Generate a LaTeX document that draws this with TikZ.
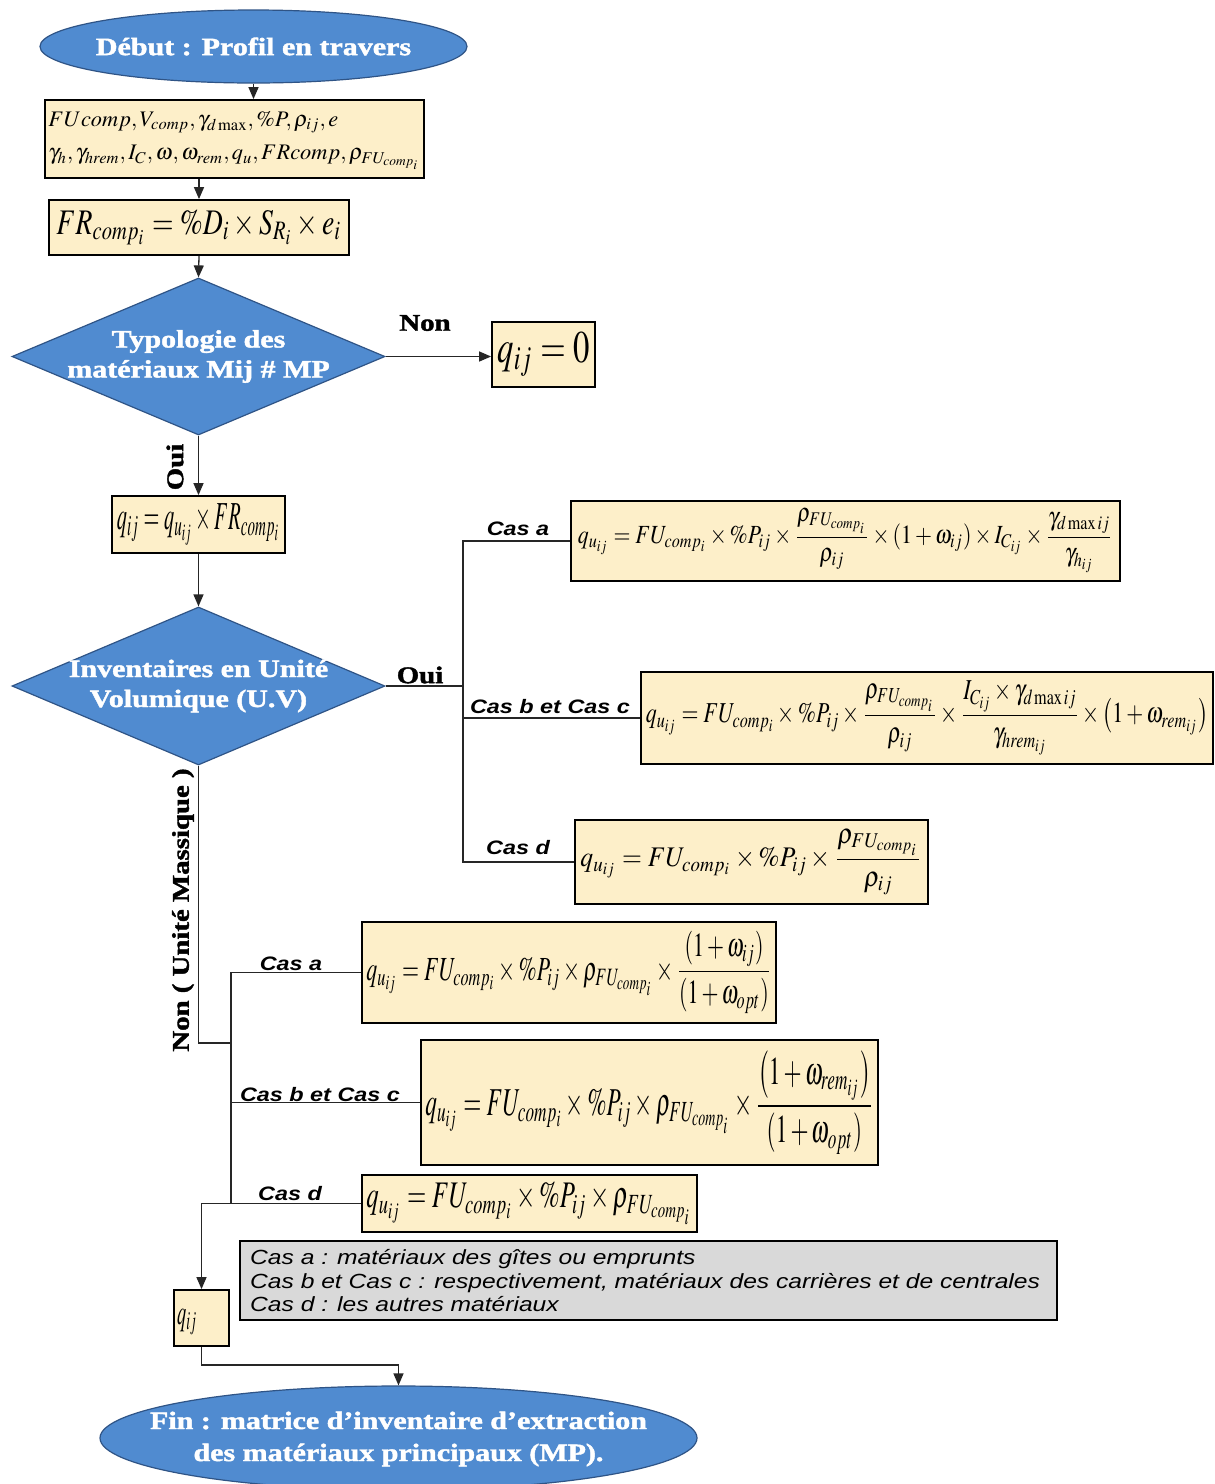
\documentclass[tikz,border=0pt]{standalone}
\usepackage{amsmath}
\usepackage{mathptmx}
\usepackage[no-math]{fontspec}
\setmainfont{Liberation Serif}
\setsansfont{Liberation Sans}
\newfontfamily\blfont[FakeBold=1.5]{Liberation Serif}
\usetikzlibrary{shapes.geometric,arrows.meta}
\definecolor{fblue}{HTML}{508BD0}
\definecolor{fbluedk}{HTML}{2F5486}
\definecolor{fyel}{HTML}{FDEFC9}
\definecolor{fgray}{HTML}{D9D9D9}
\newcommand{\fz}[3]{\resizebox*{#1}{#2}{#3}}
\newcommand{\st}[1]{\scalebox{1.2}[1]{#1}}
\begin{document}
\begin{tikzpicture}[x=1pt,y=-1pt,
 fbox/.style={draw=black,line width=1.8pt,fill=fyel,inner sep=0pt,rectangle},
 term/.style={ellipse,draw=fbluedk,line width=1.2pt,fill=fblue,inner sep=0pt},
 decide/.style={diamond,draw=fbluedk,line width=1.2pt,fill=fblue,inner sep=0pt},
 bltext/.style={text=white,align=center,inner sep=0pt,font=\blfont\bfseries\fontsize{25}{30}\selectfont},
 conn/.style={line width=1.3pt,draw=black!85},
 arr/.style={conn,-{Triangle[length=12pt,width=10pt]}},
 lbl/.style={inner sep=0pt,font=\blfont\bfseries\fontsize{24}{28}\selectfont},
 cas/.style={inner sep=0pt,font=\sffamily\bfseries\itshape\fontsize{19.5}{22}\selectfont},
 legtext/.style={inner sep=0pt,align=left,font=\sffamily\itshape\fontsize{20.5}{23.5}\selectfont}]
\useasboundingbox (0,0) rectangle (1215,1484);
\fill[white] (0,0) rectangle (1215,1484);

% start
\node[term,minimum width=427pt,minimum height=73pt] (start) at (253.5,46.5) {};
\node[bltext] (startt) at (start) {\st{Début : Profil en travers}};

% input box
\node[fbox,minimum width=379pt,minimum height=78pt] (b1) at (234.5,139)
 {\fz{372pt}{62pt}{\begin{tabular}{@{}l@{}}$FUcomp, V_{comp}, \gamma_{d\max}, \%P, \rho_{ij}, e$\\[3pt]
 $\gamma_h, \gamma_{hrem}, I_C, \omega, \omega_{rem}, q_u, FRcomp, \rho_{FU_{comp_i}}$\end{tabular}}};

\node[fbox,minimum width=300pt,minimum height=55pt] (b2) at (199,227.5)
 {\fz{285pt}{35pt}{$FR_{comp_i} = \%D_i \times S_{R_i} \times e_i$}};

% decision 1
\node[decide,minimum width=373pt,minimum height=157pt] (d1) at (198.5,356.5) {};
\node[bltext] (d1t) at (d1) {\st{Typologie des}\\\st{matériaux Mij \# MP}};

\node[fbox,minimum width=103pt,minimum height=65pt] (q0) at (543.5,354.5)
 {\fz{92pt}{44pt}{$q_{ij} = 0$}};

\node[fbox,minimum width=173pt,minimum height=57pt] (b3) at (198.5,524.5)
 {\fz{163pt}{42pt}{$q_{ij} = q_{u_{ij}} \times FR_{comp_i}$}};

% decision 2
\node[decide,minimum width=373pt,minimum height=158pt] (d2) at (198.5,686) {};
\node[bltext] (d2t) at (d2) {\st{Inventaires en Unité}\\\st{Volumique (U.V)}};

% volumique boxes
\node[fbox,minimum width=549pt,minimum height=80pt] (va) at (845.5,541)
 {\fz{535pt}{64pt}{$q_{u_{ij}} = FU_{comp_i} \times \%P_{ij} \times \dfrac{\rho_{FU_{comp_i}}}{\rho_{ij}} \times \left(1+\omega_{ij}\right) \times I_{C_{ij}} \times \dfrac{\gamma_{d\max ij}}{\gamma_{h_{ij}}}$}};

\node[fbox,minimum width=572pt,minimum height=92pt] (vbc) at (927,718)
 {\fz{562pt}{74pt}{$q_{u_{ij}} = FU_{comp_i} \times \%P_{ij} \times \dfrac{\rho_{FU_{comp_i}}}{\rho_{ij}} \times \dfrac{I_{C_{ij}} \times \gamma_{d\max ij}}{\gamma_{hrem_{ij}}} \times \left(1+\omega_{rem_{ij}}\right)$}};

\node[fbox,minimum width=353pt,minimum height=84pt] (vd) at (751.5,862)
 {\fz{342pt}{66pt}{$q_{u_{ij}} = FU_{comp_i} \times \%P_{ij} \times \dfrac{\rho_{FU_{comp_i}}}{\rho_{ij}}$}};

% massique boxes
\node[fbox,minimum width=414pt,minimum height=101pt] (ma) at (569,972.5)
 {\fz{405pt}{82pt}{$q_{u_{ij}} = FU_{comp_i} \times \%P_{ij} \times \rho_{FU_{comp_i}} \times \dfrac{\left(1+\omega_{ij}\right)}{\left(1+\omega_{opt}\right)}$}};

\node[fbox,minimum width=457pt,minimum height=125pt] (mbc) at (649.5,1102.5)
 {\fz{448pt}{104pt}{$q_{u_{ij}} = FU_{comp_i} \times \%P_{ij} \times \rho_{FU_{comp_i}} \times \dfrac{\left(1+\omega_{rem_{ij}}\right)}{\left(1+\omega_{opt}\right)}$}};

\node[fbox,minimum width=335pt,minimum height=57pt] (md) at (529.5,1203.5)
 {\fz{326pt}{42pt}{$q_{u_{ij}} = FU_{comp_i} \times \%P_{ij} \times \rho_{FU_{comp_i}}$}};

% legend
\node[draw=black,line width=1.8pt,fill=fgray,minimum width=817pt,minimum height=79pt,inner sep=0pt] (leg) at (648.5,1280.5) {};
\node[legtext,anchor=west] (legt) at (250,1281)
 {\st{Cas a : matériaux des gîtes ou emprunts}\\
  \st{Cas b et Cas c : respectivement, matériaux des carrières et de centrales}\\
  \st{Cas d : les autres matériaux}};

% result box
\node[fbox,minimum width=55pt,minimum height=56pt] (qf) at (201.5,1318) {};
\node[inner sep=0pt,anchor=west] (qft) at (177,1322) {\fz{20pt}{26pt}{$q_{ij}$}};

% end
\node[term,minimum width=597pt,minimum height=104pt] (fin) at (398.5,1438) {};
\node[bltext,font=\blfont\bfseries\fontsize{25}{32}\selectfont] (fint) at (398.5,1439)
 {\st{Fin : matrice d’inventaire d’extraction}\\\st{des matériaux principaux (MP).}};

% connectors
\draw[arr] (start.south) -- (start.south |- b1.north);
\draw[arr] (b2.north |- b1.south) -- (b2.north);
\draw[arr] (b2.south) -- (d1.north);
\draw[arr] (d1.east) -- (d1.east -| q0.west);
\draw[arr] (d1.south) -- (b3.north);
\draw[arr] (b3.south) -- (d2.north);
\coordinate (jv) at (463,686);
\draw[conn] (d2.east) -- (jv);
\draw[conn] (va.west) -- (va.west -| jv) -- (vd.west -| jv) -- (vd.west);
\draw[conn] (vbc.west -| jv) -- (vbc.west);
\coordinate (jm) at (231,1043);
\draw[conn] (d2.south) -- (d2.south |- jm) -- (jm);
\draw[conn] (ma.west) -- (ma.west -| jm) -- (md.west -| jm);
\draw[conn] (mbc.west -| jm) -- (mbc.west);
\draw[arr] (md.west) -| (qf.north);
\coordinate (bend) at (398.5,1365);
\draw[arr] (qf.south) |- (bend) -- (fin.north);

% labels
\node[lbl] (lnon) at (425,323) {\st{Non}};
\node[lbl,rotate=90] (loui1) at (175,467) {\st{Oui}};
\node[lbl] (loui2) at (420,675) {\st{Oui}};
\node[lbl,rotate=90] (lnonm) at (183,910) {\st{Non ( Unité Massique )}};
\node[cas,anchor=south] (ca1) at (518,536) {\st{Cas a}};
\node[cas,anchor=south] (cbc1) at (550,714) {\st{Cas b et Cas c}};
\node[cas,anchor=south] (cd1) at (518,855) {\st{Cas d}};
\node[cas,anchor=south] (ca2) at (291,971) {\st{Cas a}};
\node[cas,anchor=south] (cbc2) at (320,1102) {\st{Cas b et Cas c}};
\node[cas,anchor=south] (cd2) at (290,1201) {\st{Cas d}};
\end{tikzpicture}
\end{document}
